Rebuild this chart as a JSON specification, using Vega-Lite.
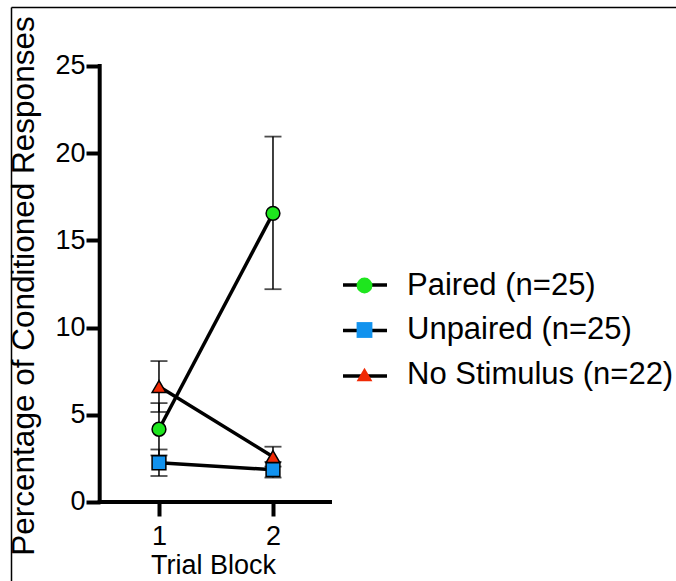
{
  "$schema": "https://vega.github.io/schema/vega-lite/v6.json",
  "width": 665,
  "height": 574,
  "autosize": "none",
  "padding": {"left": 11, "top": 7, "right": 0, "bottom": 0},
  "background": "white",
  "config": {
    "font": "Liberation Sans",
    "view": {"stroke": null},
    "axis": {"grid": false, "labelColor": "black", "titleColor": "black", "tickColor": "black", "domainColor": "black", "labelFlush": false, "titleFontWeight": "normal"},
    "legend": {
      "orient": "none",
      "padding": 0,
      "labelFontSize": 31,
      "labelColor": "black",
      "labelLimit": 1000
    }
  },
  "datasets": {
    "stats": [
      {"group": "No Stimulus (n=22)", "block": 1, "mean": 6.62, "lo": 5.16, "hi": 8.08},
      {"group": "No Stimulus (n=22)", "block": 2, "mean": 2.6, "lo": 2.03, "hi": 3.17},
      {"group": "Paired (n=25)", "block": 1, "mean": 4.17, "lo": 2.67, "hi": 5.67},
      {"group": "Paired (n=25)", "block": 2, "mean": 16.55, "lo": 12.2, "hi": 20.95},
      {"group": "Unpaired (n=25)", "block": 1, "mean": 2.25, "lo": 1.49, "hi": 3.01},
      {"group": "Unpaired (n=25)", "block": 2, "mean": 1.85, "lo": 1.4, "hi": 2.3}
    ]
  },
  "resolve": {
    "scale": {"x": "independent", "y": "independent"},
    "axis": {"x": "independent", "y": "independent"}
  },
  "layer": [
    {
      "description": "Figure frame (top and left edges) and the plot's axis lines",
      "data": {"values": [{}]},
      "encoding": {
        "x": {"datum": 0.48, "type": "quantitative",
              "scale": {"domain": [-0.298, 5.535], "nice": false, "zero": false},
              "axis": {"orient": "top", "domain": true, "domainWidth": 1.5, "ticks": false, "labels": false, "title": null}},
        "y": {"datum": 0, "type": "quantitative",
              "scale": {"domain": [-4.53, 28.38], "nice": false, "zero": false},
              "axis": {"orient": "left", "domain": true, "domainWidth": 1.5, "ticks": false, "labels": false, "title": null}}
      },
      "layer": [
        {"mark": {"type": "rule", "color": "black", "strokeWidth": 4, "strokeCap": "square"},
         "encoding": {"y2": {"datum": 25}}},
        {"mark": {"type": "rule", "color": "black", "strokeWidth": 4, "strokeCap": "square"},
         "encoding": {"x2": {"datum": 2.5}}}
      ]
    },
    {
      "data": {"name": "stats"},
      "encoding": {
        "x": {"field": "block", "type": "quantitative",
              "scale": {"domain": [-0.298, 5.535], "nice": false, "zero": false},
              "axis": {"orient": "bottom", "offset": -79, "domain": false, "values": [1, 2],
                       "tickSize": 14, "tickWidth": 4, "labelFontSize": 27, "labelPadding": 7,
                       "title": "Trial Block", "titleFontSize": 27, "titleX": 202, "titleY": 71,
                       "titleBaseline": "alphabetic", "titleAlign": "center"}}
      },
      "layer": [
        {
          "mark": {"type": "rule", "color": "black", "strokeWidth": 1.5},
          "encoding": {
            "y": {"field": "lo", "type": "quantitative",
                  "scale": {"domain": [-4.53, 28.38], "nice": false, "zero": false},
                  "axis": {"orient": "left", "offset": -89, "domain": false, "values": [0, 5, 10, 15, 20, 25],
                           "tickSize": 14, "tickWidth": 4, "labelFontSize": 27, "labelPadding": 1,
                           "title": "Percentage of Conditioned Responses", "titleFontSize": 31.5,
                           "titleX": -67, "titleY": 278.5, "titleBaseline": "alphabetic", "titleAlign": "center", "titleAngle": 270}},
            "y2": {"field": "hi"}
          }
        },
        {
          "mark": {"type": "tick", "orient": "horizontal", "color": "black", "size": 17, "thickness": 1.8},
          "encoding": {"y": {"field": "lo", "type": "quantitative"}}
        },
        {
          "mark": {"type": "tick", "orient": "horizontal", "color": "black", "size": 17, "thickness": 1.8},
          "encoding": {"y": {"field": "hi", "type": "quantitative"}}
        },
        {
          "mark": {"type": "line", "strokeWidth": 3.5},
          "encoding": {
            "y": {"field": "mean", "type": "quantitative"},
            "stroke": {
              "field": "group", "type": "nominal",
              "scale": {"domain": ["No Stimulus (n=22)", "Paired (n=25)", "Unpaired (n=25)"],
                        "range": ["black", "black", "black"]},
              "legend": {
                "title": null, "symbolType": "stroke", "symbolSize": 1936,
                "symbolStrokeWidth": 3.5, "labelExpr": "' '", "labelOffset": 2,
                "rowPadding": 6.5, "legendX": 330, "legendY": 254, "zindex": 1
              }
            },
            "order": {"field": "block"}
          }
        },
        {
          "mark": {"type": "point", "filled": true, "opacity": 1, "stroke": "black", "strokeWidth": 1.5, "size": 190},
          "encoding": {
            "y": {"field": "mean", "type": "quantitative"},
            "fill": {
              "field": "group", "type": "nominal",
              "scale": {"domain": ["Paired (n=25)", "Unpaired (n=25)", "No Stimulus (n=22)"],
                        "range": ["#1ee61e", "#1192ee", "#f02a05"]},
              "legend": {
                "title": null, "symbolSize": 250, "symbolStrokeColor": "black", "symbolStrokeWidth": 1.5,
                "labelOffset": 27, "rowPadding": 12.5, "legendX": 338, "legendY": 263, "zindex": 2
              }
            },
            "shape": {
              "field": "group", "type": "nominal",
              "scale": {"domain": ["Paired (n=25)", "Unpaired (n=25)", "No Stimulus (n=22)"],
                        "range": ["circle", "square", "triangle-up"]},
              "legend": {
                "title": null, "symbolSize": 250, "symbolStrokeColor": "black", "symbolStrokeWidth": 1.5,
                "labelOffset": 27, "rowPadding": 12.5, "legendX": 338, "legendY": 263, "zindex": 2
              }
            }
          }
        }
      ]
    }
  ]
}
